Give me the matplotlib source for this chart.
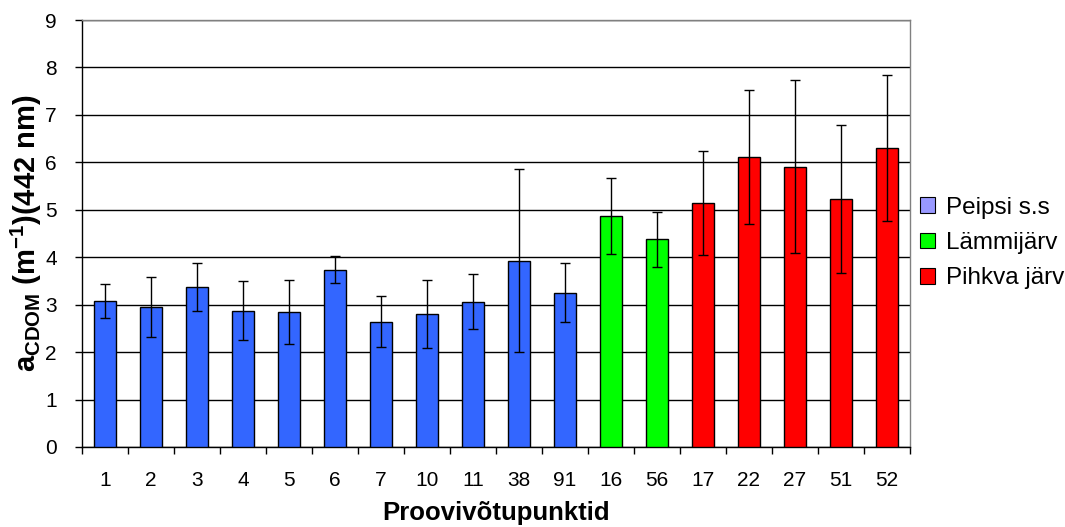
import numpy as np
import matplotlib
matplotlib.use("Agg")
import matplotlib.pyplot as plt
from matplotlib.patches import Patch

plt.rcParams['font.family'] = ['Liberation Sans', 'DejaVu Sans']
plt.rcParams['mathtext.fontset'] = 'custom'
plt.rcParams['mathtext.rm'] = 'Liberation Sans:bold'
plt.rcParams['mathtext.bf'] = 'Liberation Sans:bold'

# sampling points and mean absorption with std
points = ["1", "2", "3", "4", "5", "6", "7", "10", "11", "38", "91",
          "16", "56", "17", "22", "27", "51", "52"]
acdom = [3.08, 2.95, 3.37, 2.87, 2.84, 3.74, 2.64, 2.81, 3.06, 3.93, 3.25,
         4.87, 4.38, 5.14, 6.11, 5.91, 5.23, 6.30]
acdom_sd = [0.36, 0.64, 0.51, 0.62, 0.67, 0.29, 0.54, 0.72, 0.58, 1.92, 0.62,
            0.81, 0.58, 1.10, 1.41, 1.83, 1.56, 1.54]
lake = ["Peipsi s.s"] * 11 + ["Lämmijärv"] * 2 + ["Pihkva järv"] * 5

lake_names = ["Peipsi s.s", "Lämmijärv", "Pihkva järv"]
bar_colors = {"Peipsi s.s": "#3366FF", "Lämmijärv": "#00FF00", "Pihkva järv": "#FF0000"}
legend_colors = {"Peipsi s.s": "#9999FF", "Lämmijärv": "#00FF00", "Pihkva järv": "#FF0000"}

fig = plt.figure(figsize=(10.65, 5.27), dpi=100)
ax = fig.add_axes([82 / 1065, 1 - 447 / 527, (910 - 82) / 1065, (447 - 20) / 527])

x = np.arange(len(points))
ax.bar(x, acdom, width=0.49, color=[bar_colors[l] for l in lake],
       edgecolor="black", linewidth=1.0, zorder=3)
ax.errorbar(x, acdom, yerr=acdom_sd, fmt="none", ecolor="black",
            elinewidth=1.0, capsize=3.5, capthick=1.0, zorder=4)

ax.set_xlim(-0.5, len(points) - 0.5)
ax.set_ylim(0, 9)
ax.set_yticks(range(10))
ax.yaxis.grid(True, color="black", linewidth=1.0, zorder=0)
ax.set_axisbelow(True)

ax.set_xticks(x)
ax.set_xticklabels(points)
ax.set_xticks(np.arange(-0.5, len(points)), minor=True)
ax.tick_params(axis="x", which="major", length=0, pad=17, labelsize=15)
ax.tick_params(axis="x", which="minor", length=5, direction="out", width=1)
ax.tick_params(axis="y", length=5, direction="out", width=1, labelsize=15, pad=13)

for s in ["left", "bottom"]:
    ax.spines[s].set_color("black")
    ax.spines[s].set_linewidth(1.0)
for s in ["top", "right"]:
    ax.spines[s].set_color("#808080")
    ax.spines[s].set_linewidth(1.0)

ax.set_xlabel("Proovivõtupunktid", fontsize=18.5, fontweight="bold", labelpad=8)
ax.set_ylabel(r"a$_{\mathrm{CDOM}}$ (m$^{\mathrm{-1}}$)(442 nm)",
              fontsize=21, fontweight="bold", labelpad=1)

handles = [Patch(facecolor=legend_colors[n], edgecolor="black", linewidth=0.8, label=n)
           for n in lake_names]
fig.legend(handles=handles, loc="center left", bbox_to_anchor=(920 / 1065, 1 - 243 / 527),
           frameon=False, fontsize=17.5, handlelength=0.6, handleheight=0.6,
           handletextpad=0.45, labelspacing=0.55, borderaxespad=0, borderpad=0)

fig.savefig("out.png", dpi=100)
